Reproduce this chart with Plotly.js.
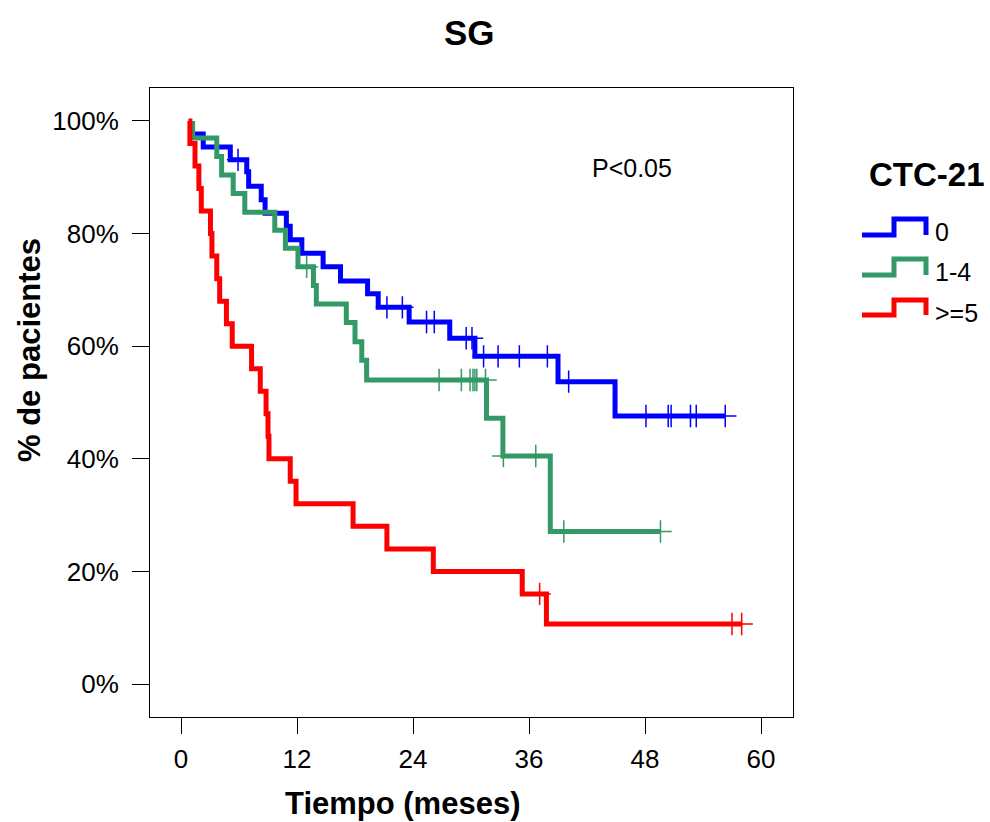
<!DOCTYPE html>
<html>
<head>
<meta charset="utf-8">
<script src="https://cdn.plot.ly/plotly-3.0.1.min.js"></script>
<style>
  html, body { margin: 0; padding: 0; background: #ffffff; }
  #chart { width: 990px; height: 822px; }
</style>
</head>
<body>
<div id="chart"></div>
<script>
// ---- Data ----
var groupNames = ["0", "1-4", ">=5"];
var groupColors = ["#0000FF", "#339966", "#FF0000"];

// CTC-21 = 0
var blueStart = 1.15;
var blueEventTimes = [1.15, 2.3, 5.1, 6.8, 7.0, 8.3, 8.7, 10.9, 11.3, 12.5, 14.7, 16.5, 19.3, 20.4, 23.6, 27.8, 30.4, 39.0, 44.9];
var blueSurv =       [97.7, 95.4, 93.1, 91.0, 88.4, 86.0, 83.6, 81.3, 78.9, 76.5, 74.1, 71.6, 69.3, 66.9, 64.3, 61.4, 58.2, 53.7, 47.6];
var blueEnd = 56.3;
var blueCensor = [5.9, 21.3, 22.9, 25.4, 26.2, 29.5, 30.1, 31.3, 32.8, 35.0, 37.9, 40.1, 48.1, 50.4, 50.7, 52.7, 53.3, 56.3];

// CTC-21 = 1-4
var greenStart = 1.2;
var greenEventTimes = [1.2, 3.7, 4.2, 5.4, 6.6, 9.7, 10.8, 12.1, 13.7, 14.0, 17.1, 18.0, 18.7, 19.2, 31.6, 33.3, 38.2];
var greenSurv =       [97.0, 93.7, 90.4, 87.1, 83.8, 80.6, 77.4, 74.1, 70.8, 67.5, 64.2, 60.8, 57.5, 54.0, 47.2, 40.5, 27.1];
var greenEnd = 49.6;
var greenCensor = [13.0, 26.7, 29.0, 29.9, 30.2, 30.4, 30.6, 31.5, 33.35, 36.7, 39.6, 49.6];

// CTC-21 >= 5
var redStart = 0.76;
var redEventTimes = [0.92, 1.45, 1.85, 2.1, 3.05, 3.2, 3.7, 4.0, 4.7, 5.3, 7.3, 8.2, 8.8, 9.0, 9.1, 11.3, 11.9, 17.8, 21.3, 26.1, 35.3, 37.8];
var redSurv =       [96, 92, 88, 84, 80, 76, 72, 68, 64, 60, 56, 52, 48, 44, 40, 36, 32, 28, 24, 20, 16, 10.67];
var redEnd = 58.0;
var redCensor = [37.1, 57.0, 58.0];

var xTicks = [0, 12, 24, 36, 48, 60];
var yTicks = [0, 20, 40, 60, 80, 100];

// ---- Helpers ----
function stepXY(start, times, surv, end) {
  var x = [start], y = [100];
  for (var i = 0; i < times.length; i++) { x.push(times[i]); y.push(surv[i]); }
  x.push(end); y.push(surv[surv.length - 1]);
  return {x: x, y: y};
}
function levelAt(t, times, surv) {
  var s = 100;
  for (var i = 0; i < times.length; i++) { if (times[i] <= t) s = surv[i]; }
  return s;
}

var groups = [
  {start: blueStart, times: blueEventTimes, surv: blueSurv, end: blueEnd, cens: blueCensor},
  {start: greenStart, times: greenEventTimes, surv: greenSurv, end: greenEnd, cens: greenCensor},
  {start: redStart, times: redEventTimes, surv: redSurv, end: redEnd, cens: redCensor}
];

var traces = [];
groups.forEach(function (g, k) {
  var s = stepXY(g.start, g.times, g.surv, g.end);
  traces.push({
    type: "scatter", mode: "lines", x: s.x, y: s.y, name: groupNames[k],
    line: {color: groupColors[k], width: 5, shape: "hv"}, showlegend: false, hoverinfo: "skip"
  });
});
groups.forEach(function (g, k) {
  traces.push({
    type: "scatter", mode: "markers",
    x: g.cens, y: g.cens.map(function (t) { return levelAt(t, g.times, g.surv); }),
    name: groupNames[k] + " censored",
    marker: {symbol: "cross-thin", size: 16, line: {color: groupColors[k], width: 1.5}},
    showlegend: false, hoverinfo: "skip"
  });
});

// ---- Layout ----
var W = 990, H = 822;
var mL = 150, mR = 197, mT = 88, mB = 105;
var pw = W - mL - mR, ph = H - mT - mB;
function px(x) { return (x - mL) / pw; }
function py(y) { return (H - mB - y) / ph; }
function stepIcon(yBottom, yTop) {
  return "M" + px(862) + "," + py(yBottom) + " L" + px(894) + "," + py(yBottom) +
         " L" + px(894) + "," + py(yTop) + " L" + px(926) + "," + py(yTop) +
         " L" + px(926) + "," + py(yBottom);
}
var legendRows = [[235, 219, 232], [275, 259, 272], [315, 300, 313]];
var fontFam = "Liberation Sans, Arial, sans-serif";

var shapes = legendRows.map(function (r, k) {
  return {type: "path", xref: "paper", yref: "paper", path: stepIcon(r[0], r[1]),
          line: {color: groupColors[k], width: 5}};
});
var annotations = legendRows.map(function (r, k) {
  return {xref: "paper", yref: "paper", x: px(933), y: py(r[2]), xanchor: "left", yanchor: "middle",
          text: groupNames[k], showarrow: false, font: {family: fontFam, size: 25, color: "#000"}};
});
annotations.push({xref: "paper", yref: "paper", x: px(927), y: py(175), xanchor: "center", yanchor: "middle",
  text: "<b>CTC-21</b>", showarrow: false, font: {family: fontFam, size: 33, color: "#000"}});
annotations.push({xref: "x", yref: "y", x: 46.7, y: 91.6, xanchor: "center", yanchor: "middle",
  text: "P<0.05", showarrow: false, font: {family: fontFam, size: 25, color: "#000"}});
// axis titles (placed off-centre as in the reference)
annotations.push({xref: "paper", yref: "paper", x: px(402), y: py(803), xanchor: "center", yanchor: "middle",
  text: "<b>Tiempo (meses)</b>", showarrow: false, font: {family: fontFam, size: 31, color: "#000"}});
annotations.push({xref: "paper", yref: "paper", x: px(29), y: py(350), xanchor: "center", yanchor: "middle",
  textangle: -90, text: "<b>% de pacientes</b>", showarrow: false, font: {family: fontFam, size: 31, color: "#000"}});

var layout = {
  width: W, height: H,
  margin: {l: mL, r: mR, t: mT, b: mB, pad: 0},
  paper_bgcolor: "#ffffff", plot_bgcolor: "#ffffff",
  font: {family: fontFam, color: "#000"},
  title: {text: "<b>SG</b>", font: {family: fontFam, size: 35, color: "#000"}, x: 0.474, xanchor: "center", y: 0.96, yanchor: "middle"},
  xaxis: {
    range: [(mL - 181) / 9.667, (W - mR - 181) / 9.667],
    tickvals: xTicks, ticktext: xTicks.map(String),
    ticks: "outside", ticklen: 16, tickwidth: 1, tickcolor: "#000",
    showline: true, mirror: true, linecolor: "#000", linewidth: 1,
    showgrid: false, zeroline: false,
    tickfont: {family: fontFam, size: 26, color: "#000"},
    ticklabelstandoff: 3
  },
  yaxis: {
    range: [-5.86, 105.86],
    tickvals: yTicks, ticktext: yTicks.map(function (v) { return v + "%"; }),
    ticks: "outside", ticklen: 17, tickwidth: 1, tickcolor: "#000",
    showline: true, mirror: true, linecolor: "#000", linewidth: 1,
    showgrid: false, zeroline: false,
    tickfont: {family: fontFam, size: 26, color: "#000"},
    ticklabelstandoff: 8
  },
  shapes: shapes,
  annotations: annotations,
  showlegend: false
};

Plotly.newPlot("chart", traces, layout, {displayModeBar: false, staticPlot: true});
</script>
</body>
</html>
